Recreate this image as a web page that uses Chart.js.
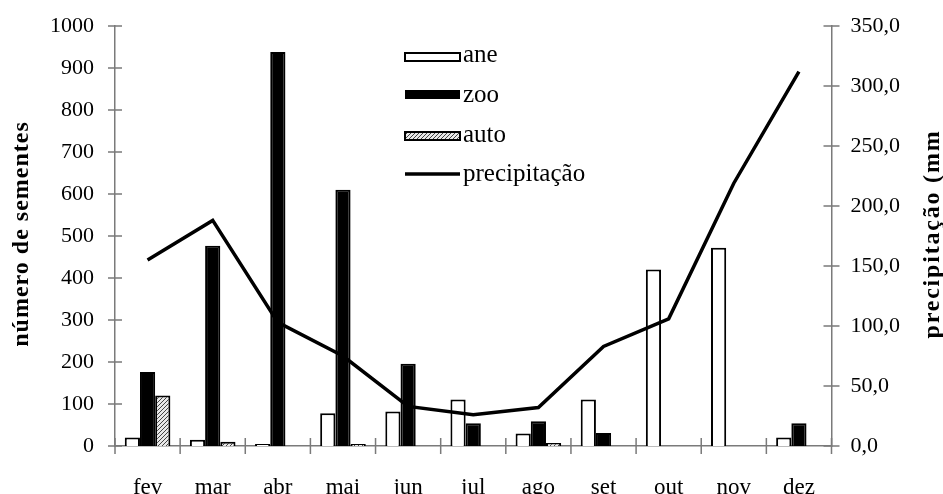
<!DOCTYPE html>
<html>
<head>
<meta charset="utf-8">
<script src="https://cdn.jsdelivr.net/npm/chart.js@4.4.1/dist/chart.umd.min.js"></script>
<style>
  body{margin:0;background:#fff;overflow:hidden;}
  #wrap{width:943px;height:494px;}
</style>
</head>
<body>
<div id="wrap"><canvas id="chart" width="943" height="494"></canvas></div>
<script>
// months
var meses = ["fev","mar","abr","mai","jun","jul","ago","set","out","nov","dez"];
// seeds per dispersal mode
var ane  = [20, 15, 5, 78, 82, 111, 30, 111, 420, 472, 20];
var zoo  = [176, 477, 938, 610, 196, 54, 59, 31, null, null, 54];
var auto = [120, 10, null, 5, null, null, 7, null, null, null, null];
// rainfall (mm)
var precipitacao = [155, 188, 103, 75, 33, 26, 32, 83, 106, 219, 312];
var ticksLeft = [0,100,200,300,400,500,600,700,800,900,1000];
var ticksRight = [0,50,100,150,200,250,300,350];

var serif = "'Liberation Serif','Times New Roman',serif";

// hatch for auto
function hatch(){
    var c = document.createElement('canvas');
    c.width = 4; c.height = 4;
    var x = c.getContext('2d');
    x.fillStyle = '#e8e8e8';
    x.fillRect(0,0,4,4);
    x.strokeStyle = '#444';
    x.lineWidth = 1;
    x.beginPath();
    x.moveTo(0,4); x.lineTo(4,0);
    x.moveTo(-1,1); x.lineTo(1,-1);
    x.moveTo(3,5); x.lineTo(5,3);
    x.stroke();
    return x.createPattern(c,'repeat');
}
var hatchFill = hatch();

// tick marks crossing the axes + titles + legend
var extras = {
    id:'extras',
    afterDraw:function(ch){
        var ctx = ch.ctx, xs = ch.scales.x, y = ch.scales.y, y1 = ch.scales.y1;
        ctx.save();
        ctx.strokeStyle = '#7a7a7a';
        ctx.lineWidth = 1.5;
        ctx.beginPath();
        var n = meses.length, w = (xs.right - xs.left)/n;
        for(var i=0;i<=n;i++){
            var px = xs.left + i*w;
            ctx.moveTo(px, y.bottom-8); ctx.lineTo(px, y.bottom+8);
        }
        ticksLeft.forEach(function(v){
            var py = y.getPixelForValue(v);
            ctx.moveTo(y.right-7, py); ctx.lineTo(y.right+7, py);
        });
        ticksRight.forEach(function(v){
            var py = y1.getPixelForValue(v);
            ctx.moveTo(y1.left-8, py); ctx.lineTo(y1.left+8, py);
        });
        ctx.stroke();

        // axis titles
        ctx.fillStyle = '#000';
        ctx.font = "bold 24px " + serif;
        ctx.textAlign = 'center';
        ctx.textBaseline = 'middle';
        ctx.letterSpacing = '1px';
        ctx.save();
        ctx.translate(22, 234);
        ctx.rotate(-Math.PI/2);
        ctx.fillText('número de sementes', 0, 0);
        ctx.restore();
        ctx.letterSpacing = '1.8px';
        ctx.save();
        ctx.translate(933, 234);
        ctx.rotate(-Math.PI/2);
        ctx.fillText('precipitação (mm', 0, 0);
        ctx.restore();
        ctx.letterSpacing = '0px';

        // legend
        var lx = 405, lw = 55;
        ctx.font = "25px " + serif;
        ctx.textAlign = 'left';
        ctx.lineWidth = 2;
        ctx.strokeStyle = '#000';
        ctx.fillStyle = '#fff';
        ctx.fillRect(lx, 53, lw, 8); ctx.strokeRect(lx, 53, lw, 8);
        ctx.fillStyle = '#000';
        ctx.fillRect(lx, 90, lw, 9);
        ctx.fillStyle = hatchFill;
        ctx.fillRect(lx, 132, lw, 8); ctx.strokeRect(lx, 132, lw, 8);
        ctx.lineWidth = 3.5;
        ctx.beginPath(); ctx.moveTo(lx, 174); ctx.lineTo(lx+lw, 174); ctx.stroke();
        ctx.fillStyle = '#000';
        ctx.fillText('ane', 463, 55);
        ctx.fillText('zoo', 463, 95);
        ctx.fillText('auto', 463, 135);
        ctx.fillText('precipitação', 463, 174);
        ctx.restore();
    }
};

var barCommon = {type:'bar', yAxisID:'y', order:1, borderColor:'#000', borderWidth:2,
    categoryPercentage:0.7, barPercentage:1.0, borderSkipped:'bottom'};

new Chart(document.getElementById('chart'), {
    data:{
        labels: meses,
        datasets:[
            Object.assign({label:'ane', data:ane, backgroundColor:'#fff'}, barCommon),
            Object.assign({label:'zoo', data:zoo, backgroundColor:'#000'}, barCommon),
            Object.assign({label:'auto', data:auto, backgroundColor:hatchFill}, barCommon),
            {type:'line', label:'precipitação', data:precipitacao, yAxisID:'y1', order:0,
             borderColor:'#000', borderWidth:3.5, tension:0, pointRadius:0, fill:false}
        ]
    },
    options:{
        responsive:false,
        animation:false,
        layout:{padding:{top:26, left:0, right:0, bottom:0}},
        plugins:{legend:{display:false}, tooltip:{enabled:false}},
        scales:{
            x:{
                offset:true,
                grid:{display:false, drawTicks:false},
                border:{display:true, color:'#7a7a7a', width:1.5},
                ticks:{color:'#000', padding:28, font:{family:serif, size:23}, maxRotation:0},
                afterFit:function(s){ s.height = 48; }
            },
            y:{
                position:'left', min:0, max:1000,
                grid:{display:false, drawTicks:false},
                border:{display:true, color:'#7a7a7a', width:1.5},
                ticks:{color:'#000', stepSize:100, padding:21, font:{family:serif, size:22},
                    callback:function(v){ return String(v); }},
                afterFit:function(s){ s.width = 115; s.paddingTop = 0; s.paddingBottom = 0; }
            },
            y1:{
                position:'right', min:0, max:350,
                grid:{display:false, drawTicks:false},
                border:{display:true, color:'#7a7a7a', width:1.5},
                ticks:{color:'#000', stepSize:50, padding:19, font:{family:serif, size:22},
                    callback:function(v){ return v.toFixed(1).replace('.', ','); }},
                afterFit:function(s){ s.width = 111.5; s.paddingTop = 0; s.paddingBottom = 0; }
            }
        }
    },
    plugins:[extras]
});
</script>
</body>
</html>
